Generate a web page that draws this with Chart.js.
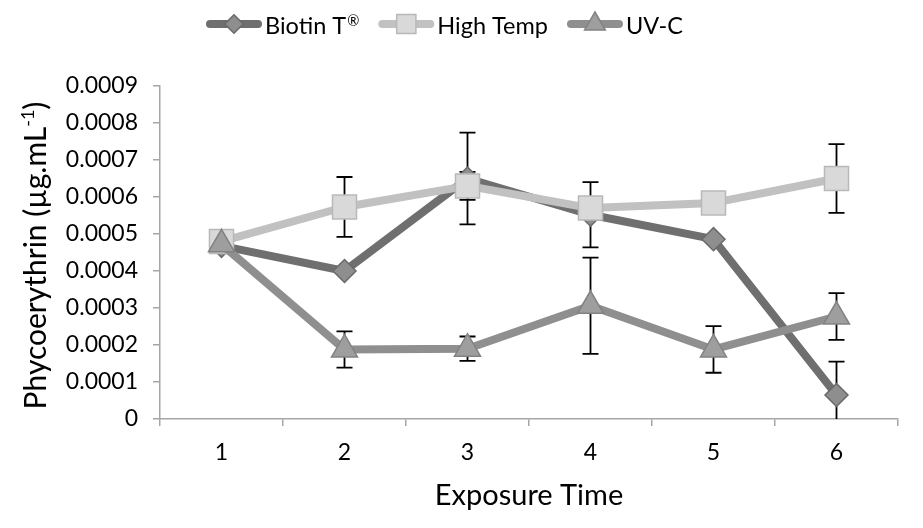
<!DOCTYPE html>
<html><head><meta charset="utf-8">
<script src="https://cdn.jsdelivr.net/npm/chart.js@4"></script>
<style>html,body{margin:0;padding:0;background:#fff}</style>
</head><body>
<canvas id="c" width="923" height="528"></canvas>
<script>
// ---- data ----
const categories = ['1', '2', '3', '4', '5', '6'];
const seriesNames = ['Biotin T®', 'High Temp', 'UV-C'];
const biotinValues = [0.000468, 0.000400, 0.000650, 0.000552, 0.000486, 0.000065];
const biotinErrors = [0, 0, 0.000124, 0.000088, 0, 0.000090];
const highTempValues = [0.000480, 0.000573, 0.000630, 0.000570, 0.000584, 0.000650];
const highTempErrors = [0, 0.000081, 0.000038, 0, 0, 0.000093];
const uvcValues = [0.000472, 0.000188, 0.000190, 0.000306, 0.000188, 0.000277];
const uvcErrors = [0, 0.000049, 0.000033, 0.000130, 0.000063, 0.000063];
const yMin = 0, yMax = 0.0009, yStep = 0.0001;
const xTitle = 'Exposure Time';
const yTitleMain = 'Phycoerythrin (µg.mL';
const yTitleSup = '-1';
const yTitleEnd = ')';

const FONT = 'Lato';
const styles = [
  {line: '#6f6f6f', fill: '#8e8e8e', border: '#6a6a6a', shape: 'rectRot', r: 11.5},
  {line: '#c1c1c1', fill: '#d9d9d9', border: '#b9b9b9', shape: 'rect', r: 17},
  {line: '#8f8f8f', fill: '#9e9e9e', border: '#828282', shape: 'triangle', r: 15}
];
const values = [biotinValues, highTempValues, uvcValues];
const errors = [biotinErrors, highTempErrors, uvcErrors];

function drawMarker(ctx, shape, x, y, r, fill, stroke) {
  ctx.save();
  ctx.fillStyle = fill; ctx.strokeStyle = stroke; ctx.lineWidth = 1.5;
  ctx.beginPath();
  if (shape === 'rectRot') {
    ctx.moveTo(x, y - r); ctx.lineTo(x + r, y); ctx.lineTo(x, y + r); ctx.lineTo(x - r, y);
  } else if (shape === 'rect') {
    const s = r / Math.SQRT2; ctx.rect(x - s, y - s, 2 * s, 2 * s);
  } else {
    ctx.moveTo(x, y - r); ctx.lineTo(x + r * Math.sqrt(3) / 2, y + r / 2); ctx.lineTo(x - r * Math.sqrt(3) / 2, y + r / 2);
  }
  ctx.closePath(); ctx.fill(); ctx.stroke();
  ctx.restore();
}

const errorBarPlugin = {
  id: 'errorBars',
  beforeDatasetsDraw(chart) {
    const ctx = chart.ctx, xs = chart.scales.x, ys = chart.scales.y;
    ctx.save();
    ctx.strokeStyle = '#000'; ctx.lineWidth = 1.8;
    errors.forEach((errs, s) => {
      errs.forEach((e, i) => {
        if (!e) return;
        const v = values[s][i];
        const x = xs.getPixelForValue(i);
        const hi = ys.getPixelForValue(v + e);
        const loV = v - e;
        const lo = ys.getPixelForValue(Math.max(0, loV));
        ctx.beginPath();
        ctx.moveTo(x, hi); ctx.lineTo(x, lo);
        ctx.moveTo(x - 8, hi); ctx.lineTo(x + 8, hi);
        if (loV >= 0) { ctx.moveTo(x - 8, lo); ctx.lineTo(x + 8, lo); }
        ctx.stroke();
      });
    });
    ctx.restore();
  }
};

// draws text, rendering a trailing ® as a small raised glyph
function drawLegendText(ctx, text, x, y, size) {
  const parts = text.split('®');
  ctx.font = `${size}px ${FONT}`;
  ctx.fillText(parts[0], x, y);
  let w = ctx.measureText(parts[0]).width;
  if (parts.length > 1) {
    ctx.font = `${size * 0.62}px ${FONT}`;
    ctx.fillText('®', x + w + 1, y - size * 0.22);
    w += 1 + ctx.measureText('®').width;
    ctx.font = `${size}px ${FONT}`;
    if (parts[1]) { ctx.fillText(parts[1], x + w, y); w += ctx.measureText(parts[1]).width; }
  }
  return w;
}

const textPlugin = {
  id: 'texts',
  afterDraw(chart) {
    const ctx = chart.ctx, a = chart.chartArea;
    ctx.save();
    ctx.fillStyle = '#000';
    // x title
    ctx.font = `29px ${FONT}`;
    ctx.textAlign = 'center'; ctx.textBaseline = 'alphabetic';
    ctx.fillText(xTitle, (a.left + a.right) / 2, 505);
    // y title
    ctx.save();
    ctx.translate(46, (a.top + a.bottom) / 2 + 3);
    ctx.rotate(-Math.PI / 2);
    ctx.font = `30px ${FONT}`;
    const w1 = ctx.measureText(yTitleMain).width;
    const w3 = ctx.measureText(yTitleEnd).width;
    ctx.font = `18px ${FONT}`;
    const w2 = ctx.measureText(yTitleSup).width;
    let x0 = -(w1 + w2 + w3) / 2;
    ctx.textAlign = 'left';
    ctx.font = `30px ${FONT}`;
    ctx.fillText(yTitleMain, x0, 0);
    ctx.font = `18px ${FONT}`;
    ctx.fillText(yTitleSup, x0 + w1, -12);
    ctx.font = `30px ${FONT}`;
    ctx.fillText(yTitleEnd, x0 + w1 + w2, 0);
    ctx.restore();
    // legend
    let lx = 206; const ly = 24;
    ctx.textBaseline = 'middle'; ctx.textAlign = 'left';
    seriesNames.forEach((name, s) => {
      const st = styles[s];
      ctx.strokeStyle = st.line; ctx.lineWidth = 8; ctx.lineCap = 'round';
      ctx.beginPath(); ctx.moveTo(lx + 4, ly); ctx.lineTo(lx + 52, ly); ctx.stroke();
      drawMarker(ctx, st.shape, lx + 28, ly, st.r * 0.8, st.fill, st.border);
      ctx.fillStyle = '#000';
      const tw = drawLegendText(ctx, name, lx + 59, ly + 2, 23.5);
      lx += 59 + tw + 19;
    });
    ctx.restore();
  }
};

const datasets = seriesNames.map((name, s) => ({
  label: name,
  data: values[s],
  order: 3 - s,
  borderColor: styles[s].line,
  borderWidth: 8,
  borderJoinStyle: 'round',
  borderCapStyle: 'round',
  tension: 0,
  fill: false,
  pointStyle: styles[s].shape,
  pointRadius: styles[s].r,
  pointHoverRadius: styles[s].r,
  pointBackgroundColor: styles[s].fill,
  pointBorderColor: styles[s].border,
  pointBorderWidth: 1.5
}));

new Chart(document.getElementById('c'), {
  type: 'line',
  data: {labels: categories, datasets},
  options: {
    responsive: false,
    devicePixelRatio: 1,
    animation: false,
    layout: {padding: {top: 86, right: 25, left: 0, bottom: 0}},
    plugins: {legend: {display: false}, tooltip: {enabled: false}},
    scales: {
      x: {
        type: 'category',
        offset: true,
        grid: {offset: true, drawOnChartArea: false, tickLength: 7, color: '#a6a6a6', lineWidth: 1.5},
        border: {color: '#a6a6a6', width: 1.5},
        ticks: {color: '#000', font: {family: FONT, size: 23}, padding: 13},
        afterFit(s) { s.height = 528 - 419; }
      },
      y: {
        min: yMin, max: yMax,
        grid: {drawOnChartArea: false, tickLength: 7, color: '#a6a6a6', lineWidth: 1.5},
        border: {color: '#a6a6a6', width: 1.5},
        ticks: {
          stepSize: yStep, color: '#000', font: {family: FONT, size: 23}, padding: 15,
          callback: v => Math.abs(v) < 1e-12 ? '0' : Number(v).toFixed(4)
        },
        afterFit(s) { s.width = 160; }
      }
    }
  },
  plugins: [errorBarPlugin, textPlugin]
});
</script>
</body></html>
